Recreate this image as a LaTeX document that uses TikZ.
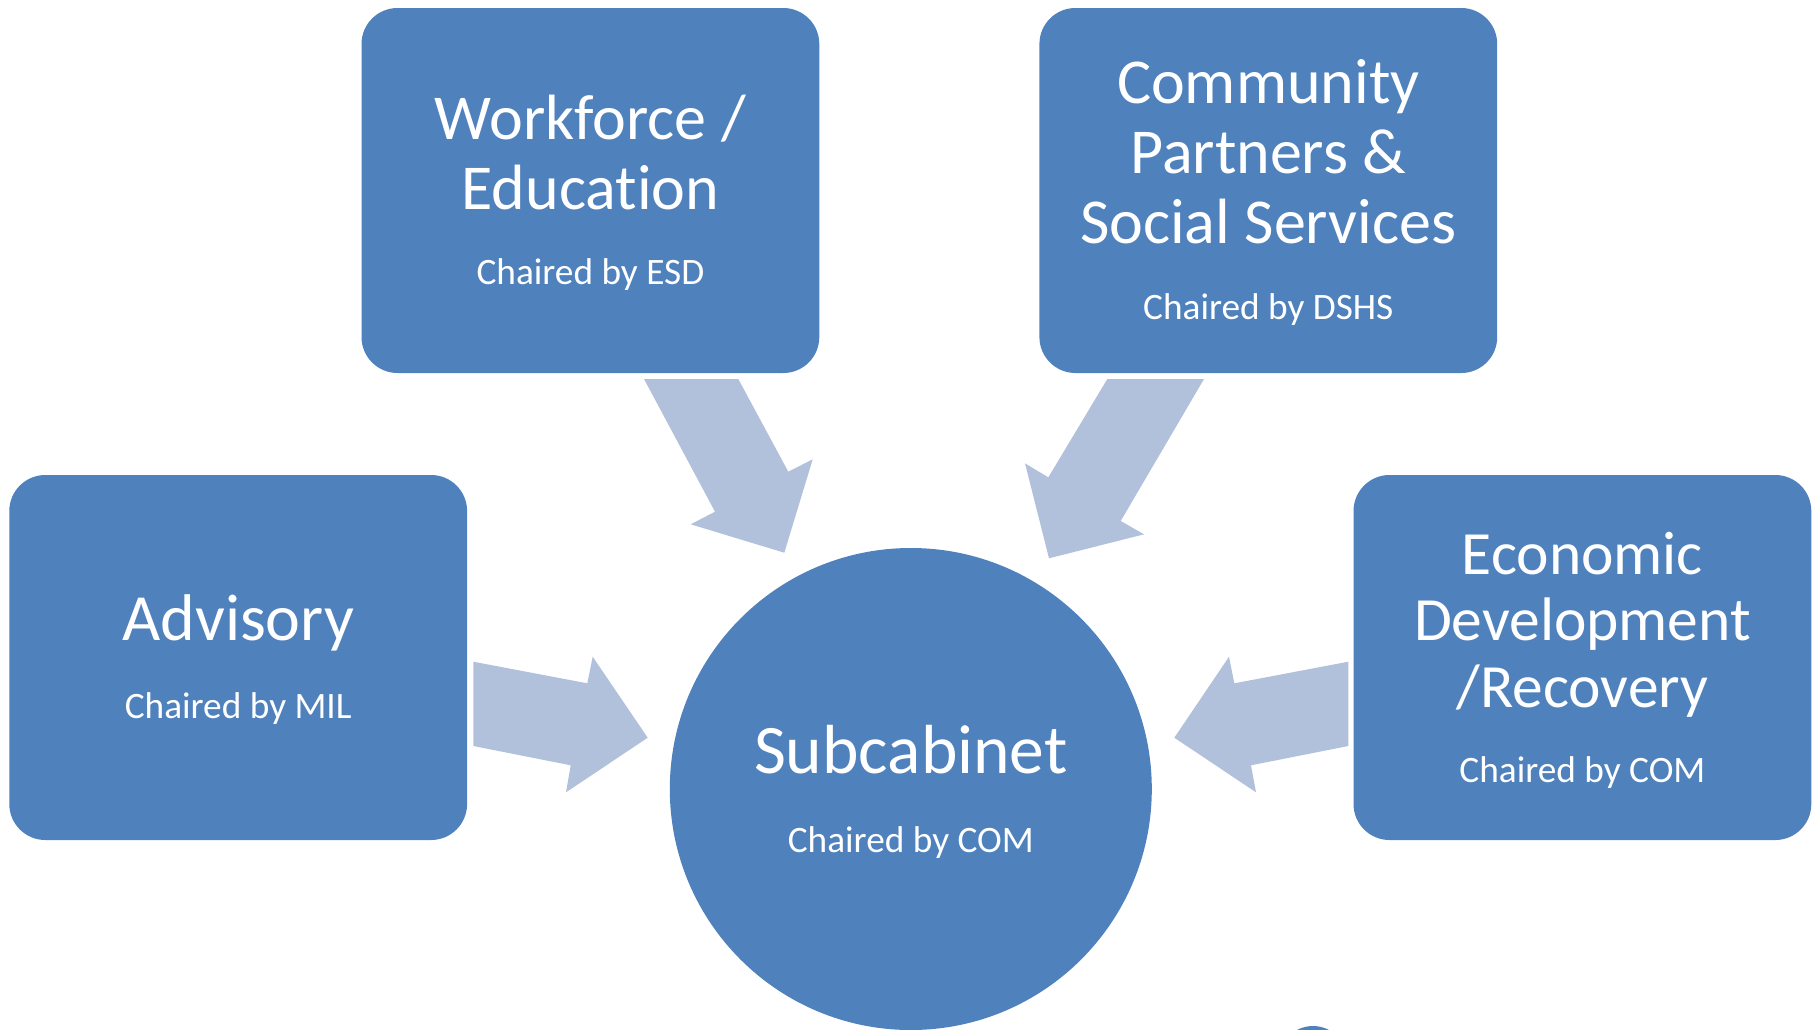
\documentclass[tikz,border=0pt]{standalone}
\usepackage{fontspec}
\setmainfont{Carlito}[Ligatures=NoCommon]
\definecolor{boxblue}{RGB}{79,129,189}
\definecolor{arrowblue}{RGB}{178,193,219}
\tikzset{
  box/.style={rectangle, rounded corners=36pt, fill=boxblue, draw=none,
    minimum width=457.8pt, minimum height=365pt, inner sep=0pt},
  hub/.style={circle, fill=boxblue, draw=none, minimum size=482pt, inner sep=0pt},
  title/.style={anchor=base, inner sep=0pt, text=white, font=\fontsize{64}{70}\selectfont},
  ecotitle/.style={anchor=base, inner sep=0pt, text=white, font=\fontsize{61.5}{70}\selectfont},
  advtitle/.style={anchor=base, inner sep=0pt, text=white, font=\fontsize{66}{72}\selectfont},
  bigtitle/.style={anchor=base, inner sep=0pt, text=white, font=\fontsize{69.5}{76}\selectfont},
  chair/.style={anchor=base, inner sep=0pt, text=white, font=\fontsize{37.3}{42}\selectfont},
  blockarrow/.style={fill=arrowblue, draw=none}
}
\begin{document}
\begin{tikzpicture}[x=1pt,y=-1pt]
\useasboundingbox (0,0) rectangle (1817,1029);
\begin{scope}
\clip (0,0) rectangle (1817,1029);
% block arrows
\fill[blockarrow] (644,379) -- (738.3,379) -- (788.3,471.7) -- (812.7,459.3) -- (784.3,552.7) -- (690.7,524.3) -- (715,511.7) -- cycle;
\fill[blockarrow] (1204,379) -- (1107.3,379) -- (1048.3,477.3) -- (1025,463.3) -- (1049,558.3) -- (1144,534.3) -- (1120.7,521) -- cycle;
\fill[blockarrow] (473.3,661.7) -- (587.3,683.3) -- (592.7,656.7) -- (647.7,737.7) -- (566,792.3) -- (570.7,765.3) -- (473.3,746) -- cycle;
\fill[blockarrow] (1348.3,661.7) -- (1234.3,683.3) -- (1229,656.7) -- (1174.3,737.7) -- (1256,792.3) -- (1251,765.3) -- (1348.3,746) -- cycle;
% boxes
\node[box] (wf) at (590.4,190.5) {};
\node[box] (cp) at (1268.3,190.5) {};
\node[box] (adv) at (238.2,657.5) {};
\node[box] (eco) at (1582.4,657.5) {};
\node[hub] (sub) at (910.8,789) {};
\node[circle, fill=boxblue, minimum size=68pt, inner sep=0pt] (dot) at (1313,1060) {};
\end{scope}
% texts
\node[title] (wfa) at (590.4,139.7) {Workforce /};
\node[title] (wfb) at (590.4,209.7) {Education};
\node[chair] (wfc) at (590.4,284.7) {Chaired by ESD};
\node[title] (cpa) at (1268.3,103) {Community};
\node[title] (cpb) at (1268.3,173.7) {Partners \&};
\node[title] (cpc) at (1268.3,243.7) {Social Services};
\node[chair] (cpd) at (1268.3,319.7) {Chaired by DSHS};
\node[advtitle] (adva) at (238.2,640) {Advisory};
\node[chair] (advb) at (238.2,718.5) {Chaired by MIL};
\node[ecotitle] (ecoa) at (1582.4,574) {Economic};
\node[ecotitle] (ecob) at (1582.4,640.7) {Development};
\node[ecotitle] (ecoc) at (1582.4,707.3) {/Recovery};
\node[chair] (ecod) at (1582.4,782.3) {Chaired by COM};
\node[bigtitle] (suba) at (910.8,773) {Subcabinet};
\node[chair] (subb) at (910.8,852) {Chaired by COM};
\end{tikzpicture}
\end{document}
